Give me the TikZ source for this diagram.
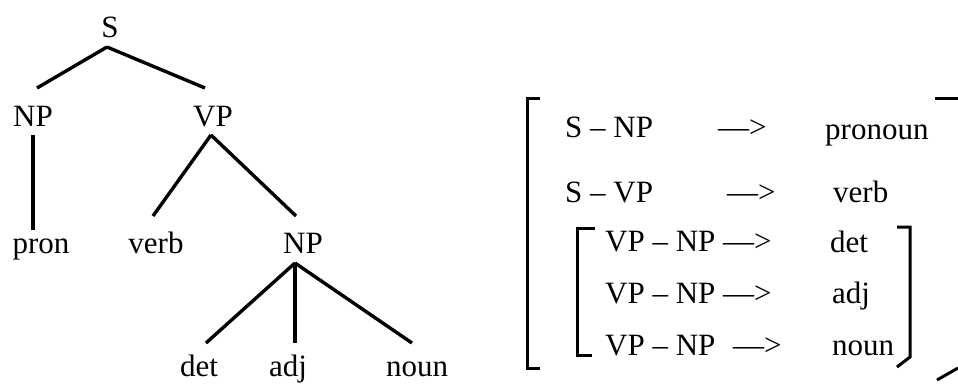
\documentclass[tikz,border=0pt]{standalone}
\usepackage{fontspec}
\setmainfont{Liberation Serif}
\begin{document}
\begin{tikzpicture}[x=1pt,y=-1pt,
  lbl/.style={inner sep=0pt,anchor=base,font=\fontsize{31}{37}\selectfont},
  rl/.style={inner sep=0pt,anchor=base west,font=\fontsize{31}{37}\selectfont},
  branch/.style={line width=3.4pt},
  brk/.style={line width=3pt}]
\useasboundingbox (0,0) rectangle (958,384);
% tree
\node[lbl] (S) at (110,37) {S};
\node[lbl] (NPa) at (33,126) {NP};
\node[lbl] (VP) at (213,126) {VP};
\node[lbl] (pron) at (41,253) {pron};
\node[lbl] (verb) at (156,253) {verb};
\node[lbl] (NPb) at (303,253) {NP};
\node[lbl] (det) at (199,376) {det};
\node[lbl] (adj) at (288,376) {adj};
\node[lbl] (noun) at (417,376) {noun};
\draw[branch] ([shift={(-3,10)}]S.base) -- ([shift={(4,-38)}]NPa.base);
\draw[branch] ([shift={(-3,10)}]S.base) -- ([shift={(-8,-38)}]VP.base);
\draw[branch] ([shift={(0,9)}]NPa.base) -- ([shift={(-8,-23)}]pron.base);
\draw[branch] ([shift={(-2,9)}]VP.base) -- ([shift={(-3,-37)}]verb.base);
\draw[branch] ([shift={(-2,9)}]VP.base) -- ([shift={(-7,-37)}]NPb.base);
\draw[branch] ([shift={(-8,10)}]NPb.base) -- ([shift={(7,-33)}]det.base);
\draw[branch] ([shift={(-8,10)}]NPb.base) -- ([shift={(7,-33)}]adj.base);
\draw[branch] ([shift={(-8,10)}]NPb.base) -- ([shift={(-5,-33)}]noun.base);
% rules
\node[rl] (r1a) at (565,137) {S – NP};
\node[rl] (r1b) at (718,137) {—>};
\node[rl] (r1c) at (825,139) {pronoun};
\node[rl] (r2a) at (565,202) {S – VP};
\node[rl] (r2b) at (727,202) {—>};
\node[rl] (r2c) at (833,202) {verb};
\node[rl] (r3a) at (605,251) {VP – NP};
\node[rl] (r3b) at (723,251) {—>};
\node[rl] (r3c) at (830,252) {det};
\node[rl] (r4a) at (605,303) {VP – NP};
\node[rl] (r4b) at (723,303) {—>};
\node[rl] (r4c) at (832,303) {adj};
\node[rl] (r5a) at (605,355) {VP – NP};
\node[rl] (r5b) at (733,355) {—>};
\node[rl] (r5c) at (832,355) {noun};
% brackets
\draw[brk] (540,98) -- (527,98) -- (527,368) -- (540,368);
\draw[brk] (595,228) -- (577,228) -- (577,355) -- (592,355);
\draw[brk] (897,227) -- (910,227) -- (910,357) -- (897,367);
\draw[brk] (935,98) -- (958,98);
\draw[brk] (937,380) -- (958,368);
\end{tikzpicture}
\end{document}
